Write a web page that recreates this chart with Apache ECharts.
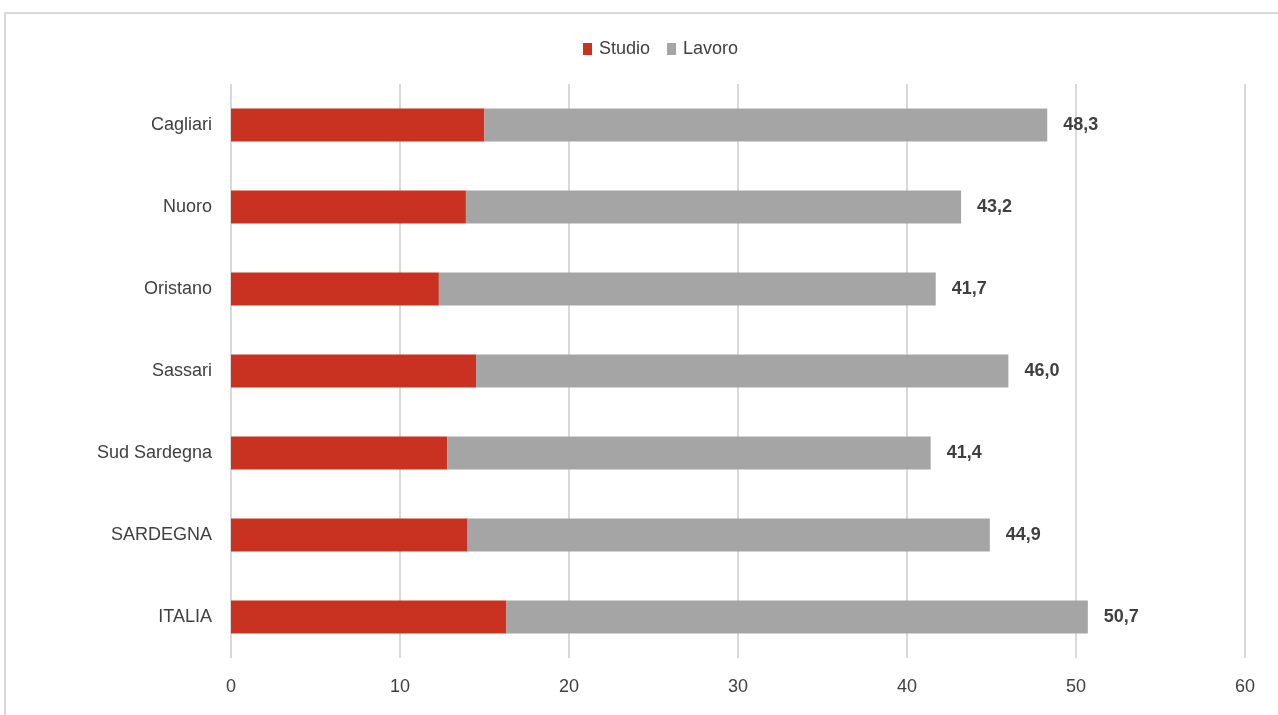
<!DOCTYPE html>
<html>
<head>
<meta charset="utf-8">
<script src="https://cdn.jsdelivr.net/npm/echarts@6/dist/echarts.min.js"></script>
<style>
  html, body { margin: 0; padding: 0; background: #fff; }
  #chart { width: 1278px; height: 715px; }
</style>
</head>
<body>
<div id="chart"></div>
<script>
// dati
var categories = ['Cagliari', 'Nuoro', 'Oristano', 'Sassari', 'Sud Sardegna', 'SARDEGNA', 'ITALIA'];
var studio = [15.0, 13.9, 12.3, 14.5, 12.8, 14.0, 16.3];
var lavoro = [33.3, 29.3, 29.4, 31.5, 28.6, 30.9, 34.4];
var totali = ['48,3', '43,2', '41,7', '46,0', '41,4', '44,9', '50,7'];
var xTicks = [0, 10, 20, 30, 40, 50, 60];

var font = '"Liberation Sans Narrow", "Arial Narrow", "Liberation Sans", sans-serif';

var chart = echarts.init(document.getElementById('chart'));
chart.setOption({
  backgroundColor: '#fff',
  animation: false,
  color: ['#c93220', '#a5a5a5'],
  textStyle: { fontFamily: font },
  graphic: [{
    type: 'rect',
    shape: { x: 5, y: 13, width: 1300, height: 720 },
    style: { fill: 'none', stroke: '#d9d9d9', lineWidth: 2 },
    silent: true
  }],
  legend: {
    top: 35,
    left: 578,
    itemWidth: 9,
    itemHeight: 12,
    itemGap: 17,
    icon: 'rect',
    textStyle: { color: '#404040', fontSize: 18, fontFamily: font, padding: [0, 0, 0, 2] },
    data: ['Studio', 'Lavoro']
  },
  grid: {
    left: 231,
    right: 33,
    top: 84,
    bottom: 57,
    containLabel: false
  },
  xAxis: {
    type: 'value',
    min: xTicks[0],
    max: xTicks[xTicks.length - 1],
    interval: 10,
    axisLine: { show: false },
    axisTick: { show: false },
    axisLabel: { color: '#404040', fontSize: 18, fontFamily: font, margin: 20 },
    splitLine: { lineStyle: { color: '#d9d9d9', width: 2 } }
  },
  yAxis: {
    type: 'category',
    inverse: true,
    data: categories,
    axisLine: { show: false },
    axisTick: { show: false },
    axisLabel: { color: '#404040', fontSize: 18, fontFamily: font, margin: 19 }
  },
  series: [
    {
      name: 'Studio',
      type: 'bar',
      stack: 'tot',
      barWidth: 33,
      data: studio
    },
    {
      name: 'Lavoro',
      type: 'bar',
      stack: 'tot',
      barWidth: 33,
      data: lavoro,
      label: {
        show: true,
        position: 'right',
        distance: 16,
        color: '#404040',
        fontSize: 18,
        fontWeight: 'bold',
        fontFamily: font,
        formatter: function (p) { return totali[p.dataIndex]; }
      }
    }
  ]
});
</script>
</body>
</html>
